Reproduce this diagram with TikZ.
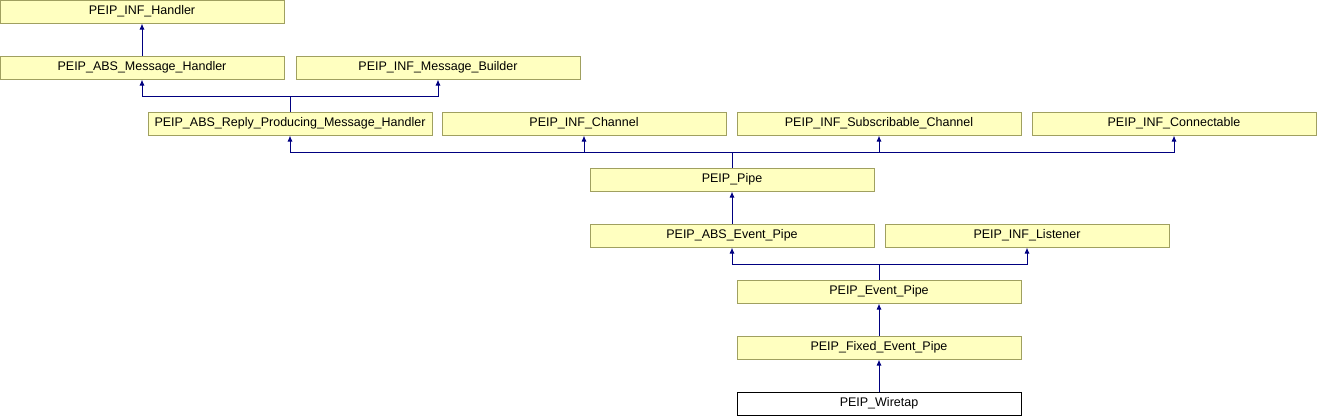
\documentclass[tikz,border=0pt]{standalone}
\usepackage{fontspec}
\setmainfont{Liberation Sans}
\usetikzlibrary{arrows.meta}
\definecolor{boxfill}{RGB}{255,255,192}
\definecolor{boxline}{RGB}{160,160,96}
\definecolor{edgeblue}{RGB}{0,0,128}
\tikzset{
  cls/.style={draw=boxline,fill=boxfill,line width=1pt,minimum width=284pt,
    minimum height=23pt,inner sep=0pt,font=\fontsize{12.5}{14}\selectfont},
  this/.style={cls,draw=black,fill=white},
  inh/.style={draw=edgeblue,line width=1pt,-{Latex[length=6pt,width=5pt]}}
}
\begin{document}
\begin{tikzpicture}[x=1pt,y=-1pt]
      \useasboundingbox (0,0) rectangle (1317,416);
      % class boxes
      \node[cls]  (handler)  at (142,11.5)   {PEIP\_INF\_Handler};
      \node[cls]  (absmsg)   at (142,67.5)   {PEIP\_ABS\_Message\_Handler};
      \node[cls]  (builder)  at (438,67.5)   {PEIP\_INF\_Message\_Builder};
      \node[cls]  (reply)    at (290,123.5)  {PEIP\_ABS\_Reply\_Producing\_Message\_Handler};
      \node[cls]  (channel)  at (584,123.5)  {PEIP\_INF\_Channel};
      \node[cls]  (subscr)   at (879,123.5)  {PEIP\_INF\_Subscribable\_Channel};
      \node[cls]  (connect)  at (1174,123.5) {PEIP\_INF\_Connectable};
      \node[cls]  (pipe)     at (732,179.5)  {PEIP\_Pipe};
      \node[cls]  (absevent) at (732,235.5)  {PEIP\_ABS\_Event\_Pipe};
      \node[cls]  (listener) at (1027,235.5) {PEIP\_INF\_Listener};
      \node[cls]  (evpipe)   at (879,291.5)  {PEIP\_Event\_Pipe};
      \node[cls]  (fixed)    at (879,347.5)  {PEIP\_Fixed\_Event\_Pipe};
      \node[this] (wiretap)  at (879,403.5)  {PEIP\_Wiretap};
      % junctions
      \coordinate (jreply) at (290,96);
      \coordinate (jpipe)  at (732,152);
      \coordinate (jev)    at (879,264);
      % inheritance
      \draw[inh] (absmsg.north) -- (handler.south);
      \draw[inh] (reply.north) -- (jreply) -| (absmsg.south);
      \draw[inh] (jreply) -| (builder.south);
      \draw[inh] (pipe.north) -- (jpipe) -| (reply.south);
      \draw[inh] (jpipe) -| (channel.south);
      \draw[inh] (jpipe) -| (subscr.south);
      \draw[inh] (jpipe) -| (connect.south);
      \draw[inh] (absevent.north) -- (pipe.south);
      \draw[inh] (evpipe.north) -- (jev) -| (absevent.south);
      \draw[inh] (jev) -| (listener.south);
      \draw[inh] (fixed.north) -- (evpipe.south);
      \draw[inh] (wiretap.north) -- (fixed.south);
     \end{tikzpicture}
\end{document}
